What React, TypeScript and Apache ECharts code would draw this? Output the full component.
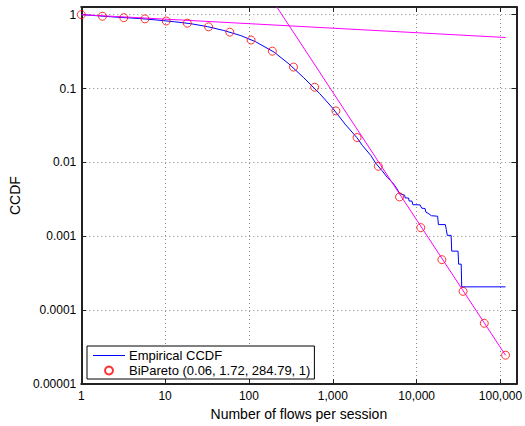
import React, { useEffect, useRef } from 'react';
import * as echarts from 'echarts';

const empiricalX = [1, 2, 3, 5, 8, 13, 20, 32, 50, 80, 120, 200, 300, 450, 700, 1000, 1400, 1950, 2250, 2830, 3240, 3880, 4450, 4860, 5320, 5830, 6260, 7200, 7300, 8000, 8150, 8800, 9000, 11000, 11500, 12600, 12900, 13700, 15000, 17800, 18200, 22000, 22600, 23200, 25800, 26200, 31200, 31700, 34000, 34500, 115000];
const empiricalY = [1.0, 0.945, 0.915, 0.885, 0.845, 0.8, 0.755, 0.688, 0.61, 0.52, 0.43, 0.31, 0.215, 0.14, 0.085, 0.054, 0.033, 0.0215, 0.017, 0.0125, 0.0098, 0.0077, 0.0063, 0.0057, 0.0051, 0.0044, 0.0038, 0.0036, 0.0033, 0.0033, 0.003, 0.003, 0.00268, 0.00266, 0.0024, 0.00238, 0.00212, 0.00205, 0.0019, 0.00187, 0.00144, 0.00144, 0.00123, 0.00103, 0.00103, 0.00063, 0.00063, 0.00042, 0.00042, 0.000207, 0.000207];

const biParetoX = [1, 1.79, 3.21, 5.75, 10.3, 18.4, 33.0, 59.1, 106, 190, 340, 608, 1090, 1950, 3490, 6250, 11200, 20000, 35800, 64100, 115000];
const biParetoY = [1.0, 0.95, 0.91, 0.875, 0.82, 0.765, 0.684, 0.579, 0.453, 0.32, 0.195, 0.104, 0.0498, 0.0217, 0.00887, 0.00341, 0.00131, 0.000483, 0.00018, 0.0000665, 0.0000246];

const asymptote1X = [1, 115000];
const asymptote1Y = [1.0, 0.49];
const asymptote2X = [215, 115000];
const asymptote2Y = [1.27, 0.0000245];

const xTickValues = [1, 10, 100, 1000, 10000, 100000];
const xTickLabels = ['1', '10', '100', '1,000', '10,000', '100,000'];
const yTickValues = [0.00001, 0.0001, 0.001, 0.01, 0.1, 1];
const yTickLabels = ['0.00001', '0.0001', '0.001', '0.01', '0.1', '1'];

const empiricalName = 'Empirical CCDF';
const biParetoName = 'BiPareto (0.06, 1.72, 284.79, 1)';

const FONT = '"Liberation Sans", Arial, Helvetica, sans-serif';

function lookup(values: number[], labels: string[]) {
  return (v: number) => {
    const lv = Math.log10(v);
    for (let i = 0; i < values.length; i++) {
      if (Math.abs(lv - Math.log10(values[i])) < 0.01) return labels[i];
    }
    return '';
  };
}

const zip = (xs: number[], ys: number[]) => xs.map((x, i) => [x, ys[i]]);

export default function App() {
  const ref = useRef<HTMLDivElement>(null);
  useEffect(() => {
    document.body.style.margin = '0';
    const chart = echarts.init(ref.current!, null, { renderer: 'svg' });
    const axisLine = { show: true, lineStyle: { color: '#222', width: 2 } };
    const tick = { show: true, inside: true, length: 5, lineStyle: { color: '#222', width: 1 } };
    const split = { show: true, lineStyle: { color: '#8a8a8a', width: 1, type: [1, 3] as any } };
    const xCommon = { type: 'log' as const, logBase: 10, min: 1, max: 155000 };
    const yCommon = { type: 'log' as const, logBase: 10, min: 0.00001, max: 1.268 };
    chart.setOption({
      animation: false,
      backgroundColor: '#fff',
      textStyle: { fontFamily: FONT },
      grid: { left: 77, right: 7, top: 7, bottom: 38, containLabel: false },
      xAxis: [
        {
          ...xCommon,
          position: 'bottom',
          axisLine,
          axisTick: tick,
          minorTick: { show: false },
          splitLine: split,
          axisLabel: {
            formatter: lookup(xTickValues, xTickLabels),
            color: '#000',
            fontSize: 12,
            fontFamily: FONT,
            margin: 6,
            showMaxLabel: false,
          },
          name: 'Number of flows per session',
          nameLocation: 'middle',
          nameGap: 20,
          nameTextStyle: { color: '#000', fontSize: 14, fontFamily: FONT },
        },
        {
          ...xCommon,
          position: 'top',
          axisLine,
          axisTick: tick,
          splitLine: { show: false },
          axisLabel: { show: false },
        },
      ],
      yAxis: [
        {
          ...yCommon,
          position: 'left',
          axisLine,
          axisTick: tick,
          splitLine: split,
          axisLabel: {
            formatter: lookup(yTickValues, yTickLabels),
            color: '#000',
            fontSize: 12,
            fontFamily: FONT,
            margin: 5,
            showMaxLabel: false,
          },
          name: 'CCDF',
          nameLocation: 'middle',
          nameGap: 50,
          nameTextStyle: { color: '#000', fontSize: 14, fontFamily: FONT },
        },
        {
          ...yCommon,
          position: 'right',
          axisLine,
          axisTick: tick,
          splitLine: { show: false },
          axisLabel: { show: false },
        },
      ],
      legend: {
        orient: 'vertical',
        left: 87,
        top: 346,
        padding: [3, 4, 2, 6],
        itemGap: 2,
        itemWidth: 32,
        itemHeight: 8,
        borderColor: '#000',
        borderWidth: 1,
        backgroundColor: '#fff',
        textStyle: { color: '#000', fontSize: 13, fontFamily: FONT, padding: [0, 0, 0, -1] },
        data: [
          { name: empiricalName, icon: 'path://M0,0 L32,0 L32,1 L0,1 Z', itemStyle: { color: '#0000ff' } },
          { name: biParetoName },
        ],
      },
      series: [
        {
          name: empiricalName,
          type: 'line',
          data: zip(empiricalX, empiricalY),
          symbol: 'none',
          lineStyle: { color: '#0000ff', width: 1 },
          itemStyle: { color: '#0000ff' },
          z: 2,
        },
        {
          name: 'asymptote-low',
          type: 'line',
          data: zip(asymptote1X, asymptote1Y),
          symbol: 'none',
          lineStyle: { color: '#ff00ff', width: 1 },
          z: 3,
        },
        {
          name: 'asymptote-high',
          type: 'line',
          data: zip(asymptote2X, asymptote2Y),
          symbol: 'none',
          lineStyle: { color: '#ff00ff', width: 1 },
          z: 3,
        },
        {
          name: biParetoName,
          type: 'scatter',
          data: zip(biParetoX, biParetoY),
          symbol: 'circle',
          symbolSize: 8,
          itemStyle: { color: 'transparent', borderColor: '#ff0000', borderWidth: 1 },
          z: 4,
        },
      ],
    });
    return () => chart.dispose();
  }, []);
  return (
    <div
      ref={ref}
      style={{ position: 'absolute', left: 0, top: 0, width: 525, height: 426 }}
    />
  );
}
